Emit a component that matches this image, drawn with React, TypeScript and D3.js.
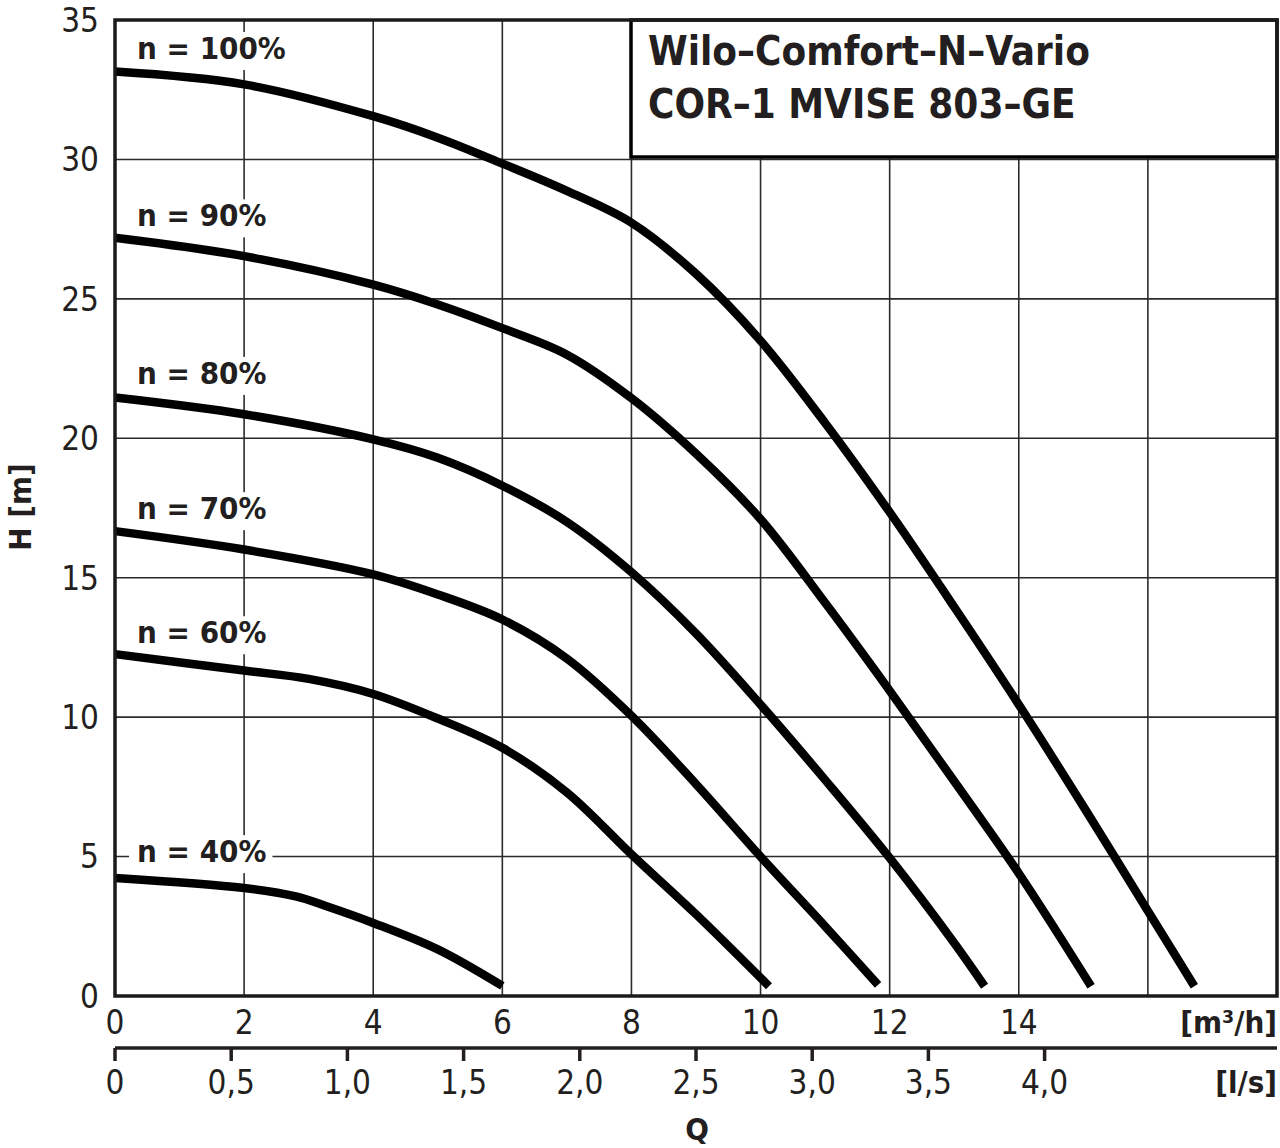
import React, { useEffect, useRef } from "react";
import * as d3 from "d3";

// flow Q [m³/h] and head H [m], one pair of arrays per speed
const q100 = [0, 2, 4, 5, 6, 7, 8, 9, 10, 11, 12, 13, 14, 15, 16, 16.72];
const h100 = [33.15, 32.69, 31.55, 30.78, 29.85, 28.87, 27.73, 25.9, 23.5, 20.55, 17.35, 13.95, 10.45, 6.8, 3.05, 0.35];
const q90 = [0, 2, 4, 5, 6, 7, 8, 9, 10, 11, 12, 13, 14, 15.12];
const h90 = [27.19, 26.53, 25.51, 24.8, 23.95, 23.0, 21.44, 19.45, 17.1, 14.1, 10.95, 7.7, 4.4, 0.35];
const q80 = [0, 2, 4, 5, 6, 7, 8, 9, 10, 11, 12, 13, 13.47];
const h80 = [21.46, 20.86, 19.96, 19.3, 18.3, 17.0, 15.2, 13.0, 10.45, 7.75, 4.95, 1.9, 0.35];
const q70 = [0, 2, 4, 5, 6, 7, 8, 9, 10, 11, 11.82];
const h70 = [16.67, 16.01, 15.12, 14.4, 13.5, 12.1, 10.05, 7.6, 5.0, 2.5, 0.4];
const q60 = [0, 2, 3, 4, 5, 6, 7, 8, 9, 10.13];
const h60 = [12.26, 11.67, 11.37, 10.83, 9.95, 8.9, 7.3, 5.08, 2.93, 0.35];
const q40 = [0, 2, 2.8, 3.3, 4, 5, 6];
const h40 = [4.23, 3.87, 3.57, 3.2, 2.62, 1.67, 0.36];

const curveLabels = ["n = 100%", "n = 90%", "n = 80%", "n = 70%", "n = 60%", "n = 40%"];
// H value at which each label baseline sits
const labelH = [33.6, 27.6, 21.95, 17.1, 12.65, 4.8];

const xTicks = [0, 2, 4, 6, 8, 10, 12, 14];
const yTicks = [0, 5, 10, 15, 20, 25, 30, 35];
const lsTicks = [0, 0.5, 1.0, 1.5, 2.0, 2.5, 3.0, 3.5, 4.0];
const titleLines = ["Wilo–Comfort–N–Vario", "COR–1 MVISE 803–GE"];

const FONT = '"DejaVu Sans Condensed", "DejaVu Sans", sans-serif';
const INK = "#231f20";

const App = () => {
  const svgRef = useRef(null);

  useEffect(() => {
    const svg = d3.select(svgRef.current);
    svg.selectAll("*").remove();

    const x = d3.scaleLinear().domain([0, 18]).range([115, 1277]);
    const y = d3.scaleLinear().domain([0, 35]).range([996, 20]);
    const xl = d3.scaleLinear().domain([0, 5]).range([115, 1277]);

    const g = svg.append("g").style("font-family", FONT).style("font-stretch", "condensed");

    // grid
    g.selectAll(".vg")
      .data(d3.range(2, 18, 2))
      .join("line")
      .attr("x1", (d) => x(d))
      .attr("x2", (d) => x(d))
      .attr("y1", y(35))
      .attr("y2", y(0))
      .attr("stroke", "#2b2b2b")
      .attr("stroke-width", 1.6);
    g.selectAll(".hg")
      .data(d3.range(5, 35, 5))
      .join("line")
      .attr("x1", x(0))
      .attr("x2", x(18))
      .attr("y1", (d) => y(d))
      .attr("y2", (d) => y(d))
      .attr("stroke", "#2b2b2b")
      .attr("stroke-width", 1.6);

    // curve labels with white knockout
    const series = [
      [q100, h100],
      [q90, h90],
      [q80, h80],
      [q70, h70],
      [q60, h60],
      [q40, h40],
    ];
    curveLabels.forEach((t, i) => {
      const lg = g.append("g");
      const txt = lg
        .append("text")
        .attr("x", 137)
        .attr("y", y(labelH[i]))
        .attr("font-size", 31)
        .attr("font-weight", "bold")
        .attr("fill", INK)
        .text(t);
      const bb = txt.node().getBBox();
      lg.insert("rect", "text")
        .attr("x", bb.x - 8)
        .attr("y", bb.y + 2)
        .attr("width", bb.width + 14)
        .attr("height", bb.height + 2)
        .attr("fill", "#fff");
    });

    // curves
    const line = d3
      .line()
      .x((d) => x(d[0]))
      .y((d) => y(d[1]))
      .curve(d3.curveCatmullRom.alpha(0.5));
    series.forEach(([qs, hs]) => {
      g.append("path")
        .datum(qs.map((q, k) => [q, hs[k]]))
        .attr("d", line)
        .attr("fill", "none")
        .attr("stroke", "#000")
        .attr("stroke-width", 8.5)
        .attr("stroke-linejoin", "round");
    });

    // title box
    g.append("rect")
      .attr("x", 631)
      .attr("y", 20)
      .attr("width", 1277 - 631)
      .attr("height", 137)
      .attr("fill", "#fff")
      .attr("stroke", "#000")
      .attr("stroke-width", 3.5);
    titleLines.forEach((t, i) => {
      g.append("text")
        .attr("x", 648)
        .attr("y", 65 + i * 53)
        .attr("font-size", 40)
        .attr("font-weight", "bold")
        .attr("fill", INK)
        .text(t);
    });

    // frame
    g.append("rect")
      .attr("x", x(0))
      .attr("y", y(35))
      .attr("width", x(18) - x(0))
      .attr("height", y(0) - y(35))
      .attr("fill", "none")
      .attr("stroke", "#1a1a1a")
      .attr("stroke-width", 3.5);

    // y ticks
    g.selectAll(".yt")
      .data(yTicks)
      .join("text")
      .attr("x", 99)
      .attr("y", (d) => y(d))
      .attr("dy", "0.36em")
      .attr("text-anchor", "end")
      .attr("font-size", 33)
      .attr("fill", INK)
      .text((d) => d);

    // x ticks (m³/h)
    g.selectAll(".xt")
      .data(xTicks)
      .join("text")
      .attr("x", (d) => x(d))
      .attr("y", 1034)
      .attr("text-anchor", "middle")
      .attr("font-size", 33)
      .attr("fill", INK)
      .text((d) => d);
    g.append("text")
      .attr("x", 1277)
      .attr("y", 1033)
      .attr("text-anchor", "end")
      .attr("font-size", 31)
      .attr("font-weight", "bold")
      .attr("fill", INK)
      .text("[m³/h]");

    // l/s axis
    g.append("line")
      .attr("x1", xl(0))
      .attr("x2", xl(5))
      .attr("y1", 1048)
      .attr("y2", 1048)
      .attr("stroke", INK)
      .attr("stroke-width", 3.5);
    g.selectAll(".lt")
      .data(lsTicks)
      .join("line")
      .attr("x1", (d) => xl(d))
      .attr("x2", (d) => xl(d))
      .attr("y1", 1048)
      .attr("y2", 1061)
      .attr("stroke", INK)
      .attr("stroke-width", 3.5);
    g.selectAll(".ltl")
      .data(lsTicks)
      .join("text")
      .attr("x", (d) => xl(d))
      .attr("y", 1094)
      .attr("text-anchor", "middle")
      .attr("font-size", 33)
      .attr("fill", INK)
      .text((d) => (d === 0 ? "0" : d.toFixed(1).replace(".", ",")));
    g.append("text")
      .attr("x", 1277)
      .attr("y", 1093)
      .attr("text-anchor", "end")
      .attr("font-size", 31)
      .attr("font-weight", "bold")
      .attr("fill", INK)
      .text("[l/s]");

    // axis titles
    g.append("text")
      .attr("x", 697)
      .attr("y", 1140)
      .attr("text-anchor", "middle")
      .attr("font-size", 31)
      .attr("font-weight", "bold")
      .attr("fill", INK)
      .text("Q");
    g.append("text")
      .attr("transform", "translate(31,507) rotate(-90)")
      .attr("text-anchor", "middle")
      .attr("font-size", 31)
      .attr("font-weight", "bold")
      .attr("fill", INK)
      .text("H [m]");
  }, []);

  return (
    <svg
      ref={svgRef}
      width={1280}
      height={1148}
      style={{ position: "absolute", left: 0, top: 0, background: "#fff" }}
    />
  );
};

export default App;
